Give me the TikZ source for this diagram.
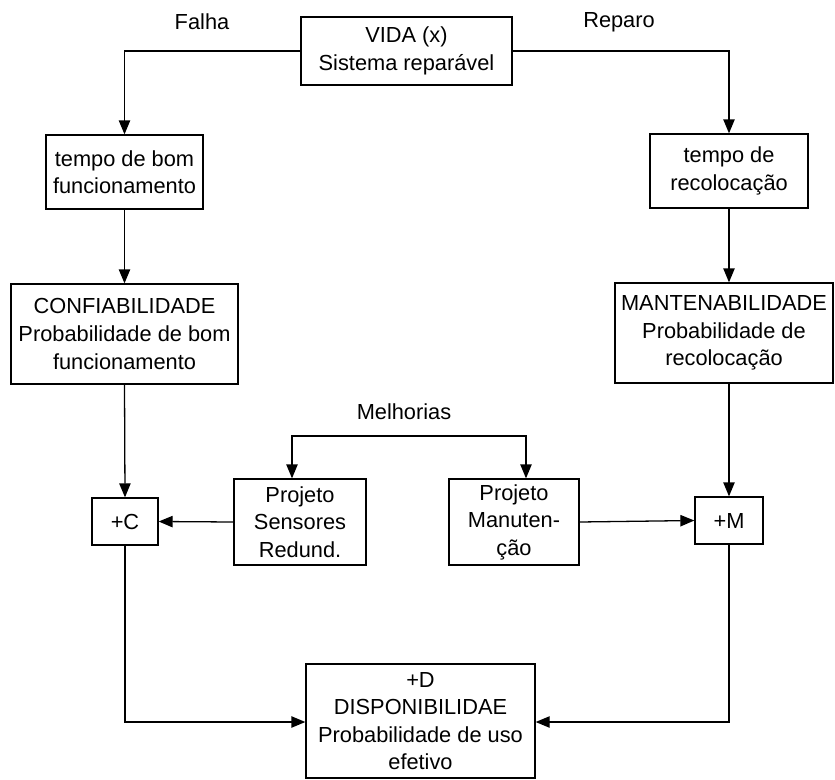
\documentclass[tikz,border=0pt]{standalone}
\usepackage{fontspec}
\setmainfont{Liberation Sans}
\usetikzlibrary{arrows.meta}
\begin{document}
\begin{tikzpicture}[x=0.03cm,y=-0.03cm,
  line width=1.1pt,
  txt/.style={font=\fontsize{18.6pt}{23.5pt}\selectfont, align=center, inner sep=0pt},
  blk/.style 2 args={txt, draw, rectangle, minimum width=#1*0.03cm, minimum height=#2*0.03cm},
  arr/.style={-{Triangle[length=0.42cm,width=0.34cm]}}]
  \useasboundingbox (0,0) rectangle (835,780);

  % boxes
  \node[blk={211}{68}]  (vida)  at (406.5,51)  {VIDA (x)\\Sistema reparável};
  \node[blk={157}{74}]  (tbom)  at (124.5,172) {tempo de bom\\funcionamento};
  \node[blk={158}{74}]  (trec)  at (729,171)   {tempo de\\recolocação};
  \node[blk={227}{100}] (conf)  at (124.5,334) {CONFIABILIDADE\\Probabilidade de bom\\funcionamento};
  \node[blk={218}{100}] (mant)  at (724,333)   {MANTENABILIDADE\\Probabilidade de\\recolocação};
  \node[blk={132}{86}]  (proj1) at (300,522)   {Projeto\\Sensores\\Redund.};
  \node[blk={130}{86}]  (proj2) at (514,522)   {Projeto\\Manuten-\\ção};
  \node[blk={66}{47}]   (plusC) at (125,521.5) {+C};
  \node[blk={68}{47}]   (plusM) at (729,520.5) {+M};
  \node[blk={229}{114}] (plusD) at (420.5,721) {+D\\DISPONIBILIDAE\\Probabilidade de uso\\efetivo};

  % labels
  \node[txt] (falha)  at (202,22)  {Falha};
  \node[txt] (reparo) at (619,22)  {Reparo};
  \node[txt] (melh)   at (404,412) {Melhorias};
  \coordinate (split) at (409,436);

  % connectors
  \draw[arr] (vida.west) -| (tbom.north);
  \draw[arr] (vida.east) -| (trec.north);
  \draw[arr] (tbom.south) -- (conf.north);
  \draw[arr] (trec.south) -- (trec.south |- mant.north);
  \draw[arr] (conf.south) -- (plusC.north);
  \draw[arr] (plusM.north |- mant.south) -- (plusM.north);
  \draw[arr] (proj1.west) -- (plusC.east);
  \draw[arr] (proj2.east) -- (plusM.west);
  \draw[arr] (split) -| ([xshift=-0.24cm]proj1.north);
  \draw[arr] (split) -| ([xshift=0.36cm]proj2.north);
  \draw[arr] (plusC.south) |- ([yshift=-0.03cm]plusD.west);
  \draw[arr] (plusM.south) |- ([yshift=-0.03cm]plusD.east);
\end{tikzpicture}
\end{document}
